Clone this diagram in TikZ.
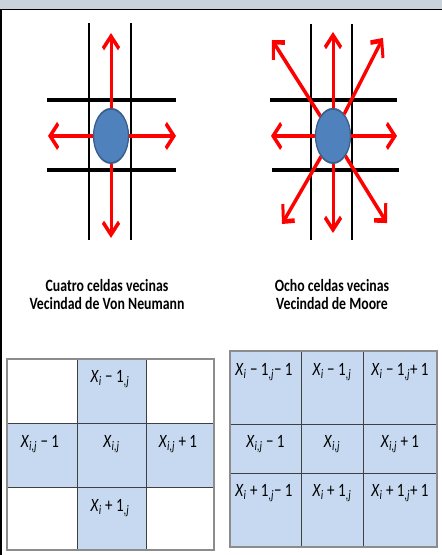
\documentclass[tikz,border=0pt]{standalone}
\usepackage{fontspec}
\setmainfont{Carlito}
\usetikzlibrary{arrows.meta}
\definecolor{band}{HTML}{C9D3DB}
\definecolor{cellblue}{HTML}{C6D9F0}
\definecolor{ballfill}{HTML}{4F81BD}
\definecolor{balledge}{HTML}{385D8A}
\definecolor{gridin}{HTML}{404040}
\definecolor{gridout}{HTML}{8C8C8C}
\newcommand\vs[1]{\scalebox{1}[1.25]{#1}}
\newcommand\cX[1]{\textit{X}\textsubscript{\textit{#1}}}
\newcommand\cJ{\textsubscript{,\textit{j}}}
\tikzset{
  blackline/.style={draw=black, line width=2pt},
  redarrow/.style={draw=red, line width=3pt, -{Straight Barb[length=8pt,width=16pt]}},
  ball/.style={circle, fill=ballfill, draw=balledge, line width=1.2pt, minimum size=35pt, inner sep=0pt},
  innerline/.style={draw=gridin, line width=0.9pt},
  outerline/.style={draw=gridout, line width=1.5pt},
  celltext/.style={font=\fontsize{15}{18}\selectfont, inner sep=0pt},
  caption/.style={font=\bfseries\fontsize{13.8}{18}\selectfont, align=center}
}
\begin{document}
\begin{tikzpicture}[x=1pt,y=-1pt]
\useasboundingbox (0,0) rectangle (442,555);
\fill[white] (0,0) rectangle (442,555);
\fill[band] (0,0) rectangle (442,8.5);
\draw[black, line width=1.5pt] (0,9.5) -- (442,9.5);
\draw[black, line width=2pt] (1,9) -- (1,555);

% ---------- top diagrams (stretched vertically) ----------
\begin{scope}[transform canvas={yscale=1.55}]
  % Von Neumann
  \draw[blackline] (89,14.8) -- (89,154.8);
  \draw[blackline] (131,14.8) -- (131,154.8);
  \draw[blackline] (47,64.5) -- (176,64.5);
  \draw[blackline] (47,109.7) -- (176,109.7);
  \node[ball] (ballL) at (111,87.7) {};
  \coordinate (lU) at (111,21.3);
  \coordinate (lD) at (111,153.5);
  \coordinate (lL) at (48,87.7);
  \coordinate (lR) at (176,87.7);
  \foreach \t in {lU,lD,lL,lR} \draw[redarrow] (ballL) -- (\t);
  % Moore
  \draw[blackline] (311,15.5) -- (311,154.8);
  \draw[blackline] (352,15.5) -- (352,154.8);
  \draw[blackline] (270,64.5) -- (397,64.5);
  \draw[blackline] (272,109.7) -- (399,109.7);
  \node[ball] (ballR) at (333,87.7) {};
  \coordinate (mU) at (333,20.6);
  \coordinate (mD) at (333,150.3);
  \coordinate (mL) at (271,87.7);
  \coordinate (mR) at (397,87.7);
  \coordinate (mUL) at (272,25.8);
  \coordinate (mUR) at (383,24.5);
  \coordinate (mLL) at (282,144.5);
  \coordinate (mLR) at (387,143.9);
  \foreach \t in {mU,mD,mL,mR,mUL,mUR,mLL,mLR} \draw[redarrow] (ballR) -- (\t);
\end{scope}

% ---------- captions ----------
\node[caption] (capL) at (107,295) {\vs{Cuatro celdas vecinas}\\\vs{Vecindad de Von Neumann}};
\node[caption] (capR) at (332,295) {\vs{Ocho celdas vecinas}\\\vs{Vecindad de Moore}};

% ---------- Von Neumann table ----------
\fill[cellblue] (77,359) rectangle (146,550);
\fill[cellblue] (7,423) rectangle (214,487);
\draw[innerline] (77,359) -- (77,550) (146,359) -- (146,550)
                 (7,423) -- (214,423) (7,487) -- (214,487);
\draw[outerline] (7,359) rectangle (214,550);
\node[celltext] (vn1) at (110,379) {\vs{\cX{i} − 1\cJ}};
\node[celltext] (vn2) at (40,444) {\vs{\cX{i,j} − 1}};
\node[celltext] (vn3) at (111.5,444) {\vs{\cX{i,j}}};
\node[celltext] (vn4) at (178,444) {\vs{\cX{i,j} + 1}};
\node[celltext] (vn5) at (110,508) {\vs{\cX{i} + 1\cJ}};

% ---------- Moore table ----------
\fill[cellblue] (230,351) rectangle (437,547);
\draw[innerline] (301,351) -- (301,547) (363,351) -- (363,547)
                 (230,424) -- (437,424) (230,473) -- (437,473);
\draw[outerline] (230,351) rectangle (437,547);
\node[celltext] (mo1) at (264,372) {\vs{\cX{i} − 1\cJ − 1}};
\node[celltext] (mo2) at (332,372) {\vs{\cX{i} − 1\cJ}};
\node[celltext] (mo3) at (400,372) {\vs{\cX{i} − 1\cJ + 1}};
\node[celltext] (mo4) at (265.5,444) {\vs{\cX{i,j} − 1}};
\node[celltext] (mo5) at (332,444) {\vs{\cX{i,j}}};
\node[celltext] (mo6) at (400,444) {\vs{\cX{i,j} + 1}};
\node[celltext] (mo7) at (264,493) {\vs{\cX{i} + 1\cJ − 1}};
\node[celltext] (mo8) at (332,493) {\vs{\cX{i} + 1\cJ}};
\node[celltext] (mo9) at (400,493) {\vs{\cX{i} + 1\cJ + 1}};
\end{tikzpicture}
\end{document}
